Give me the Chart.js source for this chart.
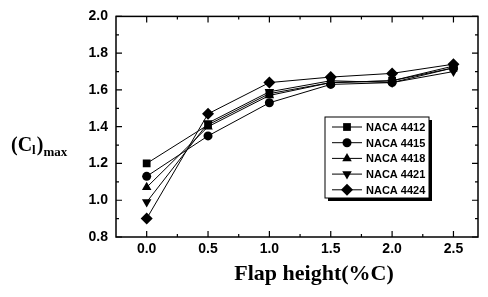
<!DOCTYPE html>
<html lang="en">
<head>
    <meta charset="UTF-8">
    <title>Cl max vs flap height</title>
    <script src="https://cdn.jsdelivr.net/npm/chart.js"></script>
    <style>
        html, body {
            margin: 0;
            padding: 0;
            background: #fff;
        }
        .chart-box {
            width: 488px;
            height: 297px;
        }
    </style>
</head>
<body>
    <div class="chart-box">
        <canvas id="clChart" width="488" height="297"></canvas>
    </div>

    <script>
        // Flap height (%C) on the x axis
        const flapHeight = [0.0, 0.5, 1.0, 1.5, 2.0, 2.5];

        // (Cl)max, one list per airfoil
        const naca4412 = [1.20, 1.41, 1.58, 1.64, 1.65, 1.72];
        const naca4415 = [1.13, 1.35, 1.53, 1.63, 1.64, 1.72];
        const naca4418 = [1.07, 1.40, 1.57, 1.64, 1.65, 1.73];
        const naca4421 = [0.99, 1.42, 1.59, 1.65, 1.64, 1.70];
        const naca4424 = [0.90, 1.47, 1.64, 1.67, 1.69, 1.74];

        const seriesNames = ['NACA 4412', 'NACA 4415', 'NACA 4418', 'NACA 4421', 'NACA 4424'];

        // Tick labels
        const xTicks = [0.0, 0.5, 1.0, 1.5, 2.0, 2.5];
        const yTicks = [0.8, 1.0, 1.2, 1.4, 1.6, 1.8, 2.0];

        // marker style per series
        const markers = [
            { pointStyle: 'rect', rotation: 0, radius: 5.5 },
            { pointStyle: 'circle', rotation: 0, radius: 4.5 },
            { pointStyle: 'triangle', rotation: 0, radius: 5.5 },
            { pointStyle: 'triangle', rotation: 180, radius: 5.5 },
            { pointStyle: 'rectRot', rotation: 0, radius: 6 }
        ];

        Chart.defaults.font.family = '"Liberation Sans", Arial, sans-serif';
        Chart.defaults.color = '#000';

        function toPoints(values) {
            return flapHeight.map((x, i) => ({ x: x, y: values[i] }));
        }

        const allValues = [naca4412, naca4415, naca4418, naca4421, naca4424];

        const datasets = allValues.map((values, i) => ({
            label: seriesNames[i],
            data: toPoints(values),
            borderColor: '#000',
            backgroundColor: '#000',
            borderWidth: 1,
            pointStyle: markers[i].pointStyle,
            rotation: markers[i].rotation,
            pointRadius: markers[i].radius,
            pointBorderWidth: 0,
            tension: 0
        }));

        // frame, inward ticks, axis titles and the boxed legend
        const decorations = {
            id: 'decorations',
            afterDraw(chart) {
                const ctx = chart.ctx;
                const area = chart.chartArea;
                const xs = chart.scales.x;
                const ys = chart.scales.y;

                ctx.save();
                ctx.strokeStyle = '#000';
                ctx.lineWidth = 1.5;
                ctx.strokeRect(area.left, area.top, area.right - area.left, area.bottom - area.top);

                // ticks pointing inward on all four sides
                ctx.lineWidth = 1.2;
                ctx.beginPath();
                for (let v = 0; v <= 2.5001; v += 0.25) {
                    const px = xs.getPixelForValue(v);
                    const len = Math.abs(v * 2 - Math.round(v * 2)) < 0.01 ? 6 : 3;
                    ctx.moveTo(px, area.bottom);
                    ctx.lineTo(px, area.bottom - len);
                    ctx.moveTo(px, area.top);
                    ctx.lineTo(px, area.top + len);
                }
                for (let v = 0.8; v <= 2.0001; v += 0.1) {
                    const py = ys.getPixelForValue(v);
                    const len = Math.abs(v * 5 - Math.round(v * 5)) < 0.01 ? 6 : 3;
                    ctx.moveTo(area.left, py);
                    ctx.lineTo(area.left + len, py);
                    ctx.moveTo(area.right, py);
                    ctx.lineTo(area.right - len, py);
                }
                ctx.stroke();

                // x axis title
                ctx.fillStyle = '#000';
                ctx.font = 'bold 22px "Liberation Serif", "Times New Roman", serif';
                ctx.textAlign = 'center';
                ctx.textBaseline = 'alphabetic';
                ctx.fillText('Flap height(%C)', 314, 280);

                // y axis title (Cl)max
                ctx.textAlign = 'left';
                let x = 11;
                ctx.font = 'bold 20px "Liberation Serif", "Times New Roman", serif';
                ctx.fillText('(C', x, 151);
                x += ctx.measureText('(C').width;
                ctx.font = 'bold 13px "Liberation Serif", "Times New Roman", serif';
                ctx.fillText('l', x, 154);
                x += ctx.measureText('l').width + 1;
                ctx.font = 'bold 20px "Liberation Serif", "Times New Roman", serif';
                ctx.fillText(')', x, 151);
                x += ctx.measureText(')').width;
                ctx.font = 'bold 13px "Liberation Serif", "Times New Roman", serif';
                ctx.fillText('max', x, 156);

                // legend box with shadow
                const bx = 325, by = 117, bw = 104, bh = 81;
                ctx.fillRect(bx + 3, by + 3, bw, bh);
                ctx.fillStyle = '#fff';
                ctx.fillRect(bx, by, bw, bh);
                ctx.lineWidth = 1;
                ctx.strokeRect(bx, by, bw, bh);

                ctx.font = 'bold 11px "Liberation Sans", Arial, sans-serif';
                ctx.textBaseline = 'middle';
                seriesNames.forEach((name, i) => {
                    const ry = 127 + i * 15.7;
                    ctx.strokeStyle = '#000';
                    ctx.lineWidth = 1;
                    ctx.beginPath();
                    ctx.moveTo(332, ry);
                    ctx.lineTo(362, ry);
                    ctx.stroke();
                    ctx.fillStyle = '#000';
                    Chart.helpers.drawPoint(ctx, {
                        pointStyle: markers[i].pointStyle,
                        rotation: markers[i].rotation,
                        radius: markers[i].radius,
                        borderWidth: 0
                    }, 347, ry);
                    ctx.fillStyle = '#000';
                    ctx.fillText(name, 366, ry + 1);
                });
                ctx.restore();
            }
        };

        new Chart(document.getElementById('clChart'), {
            type: 'line',
            data: { datasets: datasets },
            options: {
                responsive: false,
                animation: false,
                layout: {
                    padding: { top: 10, right: 10, left: 0, bottom: 0 }
                },
                plugins: {
                    legend: { display: false },
                    tooltip: { enabled: false }
                },
                scales: {
                    x: {
                        type: 'linear',
                        min: -0.25,
                        max: 2.7,
                        grid: { display: false, drawTicks: false },
                        border: { display: false },
                        afterBuildTicks: scale => {
                            scale.ticks = xTicks.map(v => ({ value: v }));
                        },
                        afterFit: scale => {
                            scale.height = 60;
                        },
                        ticks: {
                            padding: 4,
                            font: { size: 14, weight: 'bold' },
                            callback: v => Number(v).toFixed(1)
                        }
                    },
                    y: {
                        min: 0.8,
                        max: 2.0,
                        grid: { display: false, drawTicks: false },
                        border: { display: false },
                        afterBuildTicks: scale => {
                            scale.ticks = yTicks.map(v => ({ value: v }));
                        },
                        afterFit: scale => {
                            scale.width = 116;
                        },
                        ticks: {
                            padding: 8,
                            font: { size: 14, weight: 'bold' },
                            callback: v => Number(v).toFixed(1)
                        }
                    }
                }
            },
            plugins: [decorations]
        });
    </script>
</body>
</html>
